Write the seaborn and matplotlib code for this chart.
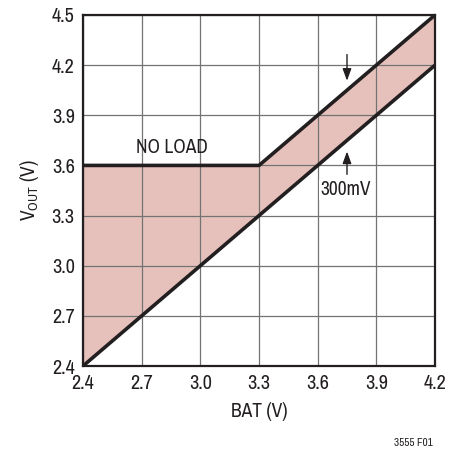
import matplotlib
matplotlib.use("Agg")
import matplotlib.pyplot as plt
from matplotlib import font_manager
import seaborn as sns
import pandas as pd

# Output voltage vs battery voltage (breakpoints)
bat = [2.4, 3.3, 4.2]
vout_no_load = [3.6, 3.6, 4.5]
vout_min = [2.4, 3.3, 4.2]

x_ticks = [2.4, 2.7, 3.0, 3.3, 3.6, 3.9, 4.2]
y_ticks = [2.4, 2.7, 3.0, 3.3, 3.6, 3.9, 4.2, 4.5]

sns.set_theme(style="white")

# prefer a condensed sans face when one is available
narrow = sorted({f.name for f in font_manager.fontManager.ttflist
                 if ("narrow" in f.name.lower() or "condensed" in f.name.lower()
                     or f.stretch in ("condensed", "semi-condensed"))})
families = narrow[:1] + ['Liberation Sans', 'DejaVu Sans']
plt.rcParams['font.family'] = families

fig = plt.figure(figsize=(4.5, 4.51), dpi=100)
ax = fig.add_axes([83 / 450, 1 - 366 / 451, 352 / 450, 351 / 451])

df = pd.DataFrame({"bat": bat, "upper": vout_no_load, "lower": vout_min})

ax.fill_between(df["bat"], df["lower"], df["upper"], color="#E6C1BB", lw=0, zorder=1)
sns.lineplot(data=df, x="bat", y="upper", ax=ax, color="#231F20", lw=2.6, zorder=3)
sns.lineplot(data=df, x="bat", y="lower", ax=ax, color="#231F20", lw=2.6, zorder=3)

ax.set_xlim(2.4, 4.2)
ax.set_ylim(2.4, 4.5)
ax.set_xticks(x_ticks)
ax.set_yticks(y_ticks)
ax.set_xticklabels([f"{v:.1f}" for v in x_ticks])
ax.set_yticklabels([f"{v:.1f}" for v in y_ticks])
ax.grid(True, color="#737373", lw=0.9, zorder=2)
ax.set_axisbelow(False)
ax.tick_params(axis="x", length=0, labelsize=14.5, colors="#231F20", pad=6)
ax.tick_params(axis="y", length=0, labelsize=14.5, colors="#231F20", pad=6)
for s in ax.spines.values():
    s.set_color("#231F20")
    s.set_linewidth(1.6)
    s.set_zorder(4)

ax.set_xlabel("BAT (V)", fontsize=14, color="#231F20", labelpad=6)
ax.set_ylabel(r"V$_{\mathregular{OUT}}$ (V)", fontsize=14, color="#231F20", labelpad=8)

ax.text(2.855, 3.71, "NO LOAD", fontsize=14, ha="center", va="center", color="#231F20", zorder=5)
ax.text(3.612, 3.453, "300mV", fontsize=14, ha="left", va="center", color="#231F20", zorder=5,
        bbox=dict(facecolor="white", edgecolor="none", pad=0.5))

arrow_kw = dict(arrowstyle="-|>,head_length=0.6,head_width=0.22", color="#231F20", lw=1.0)
ax.annotate("", xy=(3.75, 4.09), xytext=(3.75, 4.28), arrowprops=arrow_kw, zorder=5)
ax.annotate("", xy=(3.75, 3.70), xytext=(3.75, 3.53), arrowprops=arrow_kw, zorder=5)

fig.text(433 / 450, 1 - 443 / 451, "3555 F01", fontsize=8, ha="right", va="center", color="#231F20")

fig.savefig("out.png", dpi=100, facecolor="white")
